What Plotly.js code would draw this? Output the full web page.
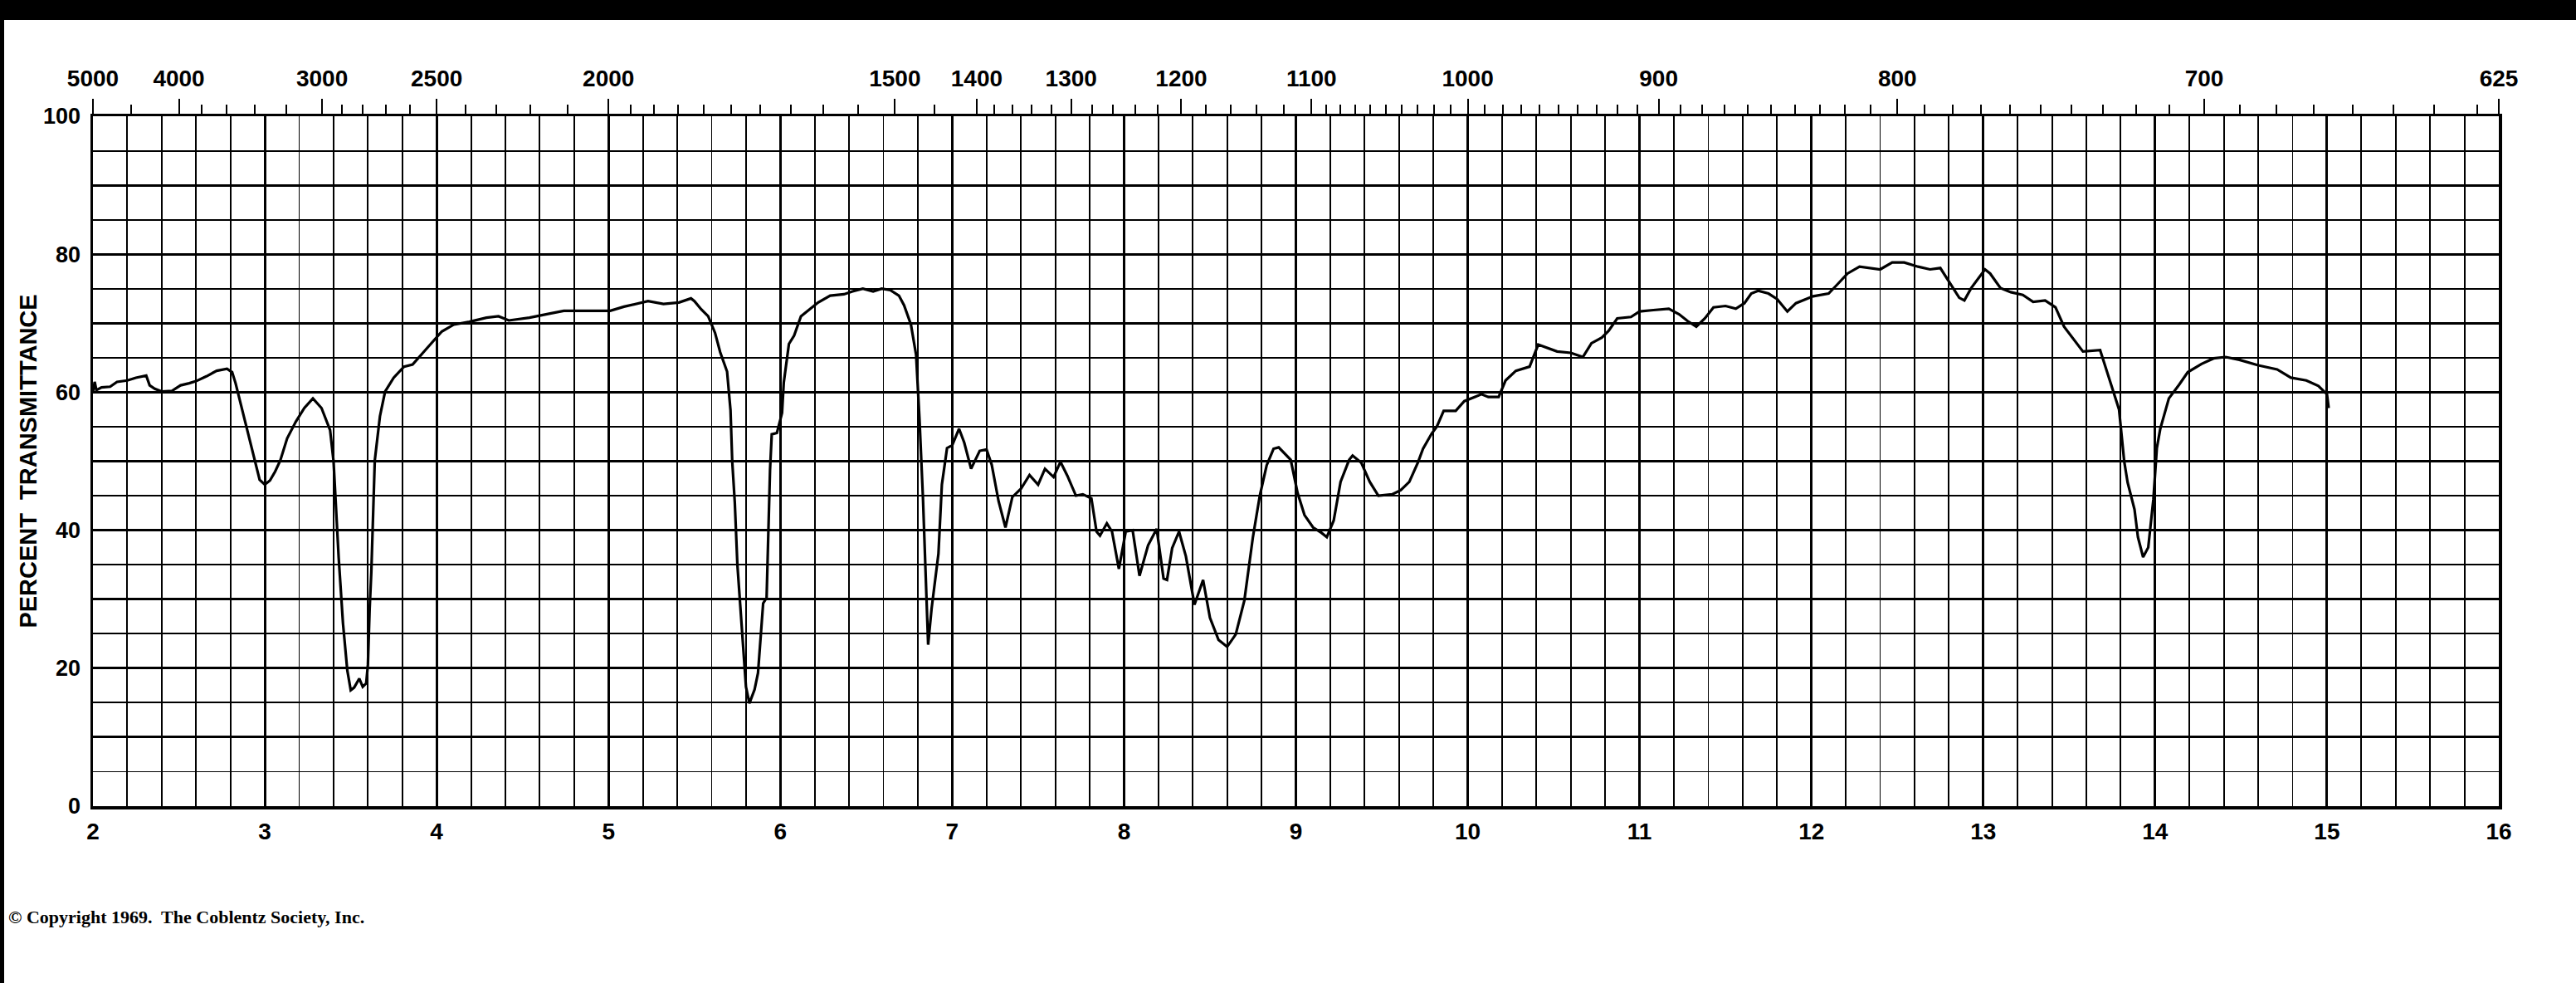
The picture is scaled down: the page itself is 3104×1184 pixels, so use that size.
<!DOCTYPE html>
<html>
<head>
<meta charset="utf-8">
<script src="https://cdn.plot.ly/plotly-3.0.1.min.js"></script>
<style>
  html, body { margin: 0; padding: 0; background: #000; }
  #chart { position: absolute; left: 5px; top: 24px; width: 3099px; height: 1160px; background: #fff; }
</style>
</head>
<body>
<div id="chart"></div>
<script>
// wavelength in microns
var microns = [
  2.00, 2.01, 2.02, 2.05, 2.10, 2.14, 2.20, 2.25, 2.31, 2.33, 2.36, 2.40, 2.46, 2.51, 2.56, 2.60,
  2.66, 2.72, 2.78, 2.81, 2.83, 2.87, 2.91, 2.94, 2.97, 3.00, 3.03, 3.06, 3.09, 3.13, 3.18, 3.23,
  3.28, 3.33, 3.38, 3.40, 3.43, 3.455, 3.48, 3.50, 3.52, 3.55, 3.57, 3.59, 3.60, 3.61, 3.62, 3.64,
  3.67, 3.70, 3.75, 3.81, 3.86, 3.92, 3.99, 4.03, 4.10, 4.19, 4.29, 4.36, 4.42, 4.54, 4.66, 4.74,
  4.84, 5.01, 5.09, 5.16, 5.23, 5.32, 5.41, 5.48, 5.50, 5.54, 5.58, 5.62, 5.65, 5.69, 5.71, 5.72,
  5.735, 5.75, 5.78, 5.80, 5.82, 5.85, 5.87, 5.90, 5.92, 5.94, 5.95, 5.98, 6.01, 6.02, 6.05, 6.08,
  6.12, 6.17, 6.22, 6.29, 6.37, 6.42, 6.48, 6.54, 6.59, 6.64, 6.69, 6.72, 6.76, 6.79, 6.81, 6.83,
  6.85, 6.86, 6.88, 6.90, 6.92, 6.94, 6.97, 7.00, 7.04, 7.07, 7.11, 7.16, 7.20, 7.23, 7.27, 7.31,
  7.35, 7.40, 7.45, 7.50, 7.54, 7.59, 7.63, 7.67, 7.72, 7.76, 7.81, 7.84, 7.86, 7.90, 7.93, 7.97,
  8.01, 8.05, 8.09, 8.14, 8.19, 8.23, 8.25, 8.28, 8.32, 8.36, 8.41, 8.46, 8.50, 8.55, 8.60, 8.65,
  8.70, 8.75, 8.79, 8.83, 8.87, 8.90, 8.94, 8.97, 9.01, 9.05, 9.10, 9.15, 9.18, 9.22, 9.26, 9.31,
  9.33, 9.38, 9.43, 9.48, 9.56, 9.61, 9.66, 9.71, 9.74, 9.79, 9.82, 9.86, 9.93, 9.98, 10.08, 10.12,
  10.18, 10.22, 10.28, 10.36, 10.41, 10.47, 10.52, 10.60, 10.67, 10.72, 10.78, 10.82, 10.87, 10.95, 11.00, 11.08,
  11.17, 11.23, 11.28, 11.33, 11.38, 11.43, 11.50, 11.56, 11.61, 11.65, 11.69, 11.75, 11.80, 11.86, 11.91, 12.01,
  12.10, 12.15, 12.21, 12.28, 12.40, 12.47, 12.54, 12.62, 12.69, 12.75, 12.80, 12.86, 12.89, 12.93, 13.01, 13.04,
  13.10, 13.16, 13.23, 13.29, 13.36, 13.42, 13.47, 13.53, 13.58, 13.68, 13.73, 13.79, 13.82, 13.84, 13.88, 13.90,
  13.93, 13.96, 13.99, 14.01, 14.03, 14.08, 14.14, 14.19, 14.27, 14.34, 14.41, 14.49, 14.60, 14.71, 14.79, 14.88,
  14.95, 15.00, 15.01
];

// percent transmittance at each wavelength
var transmittance = [
  60.0, 61.5, 60.3, 60.7, 60.8, 61.5, 61.7, 62.1, 62.4, 61.0, 60.5, 60.1, 60.2, 61.0, 61.3, 61.6,
  62.3, 63.1, 63.4, 62.9, 61.3, 57.3, 53.3, 50.0, 47.3, 46.6, 47.2, 48.5, 50.1, 53.3, 55.7, 57.7,
  59.1, 57.7, 54.5, 50.0, 36.0, 26.5, 19.7, 16.8, 17.2, 18.5, 17.3, 17.8, 20.5, 28.5, 34.0, 50.1,
  56.5, 60.1, 62.1, 63.7, 64.0, 65.7, 67.7, 68.8, 69.8, 70.2, 70.8, 71.0, 70.4, 70.8, 71.4, 71.8,
  71.8, 71.8, 72.4, 72.8, 73.2, 72.8, 73.0, 73.6, 73.2, 72.0, 71.0, 68.6, 65.8, 63.0, 57.4, 50.0,
  44.0, 35.0, 24.6, 17.3, 14.9, 16.9, 19.3, 29.4, 30.2, 48.7, 53.9, 54.1, 57.0, 61.4, 67.0, 68.2,
  71.0, 72.0, 73.0, 74.0, 74.2, 74.6, 75.0, 74.6, 75.0, 74.8, 74.0, 72.6, 69.8, 65.4, 56.0, 44.6,
  28.6, 23.4, 28.6, 33.0, 36.6, 46.6, 51.9, 52.3, 54.7, 52.7, 48.9, 51.5, 51.7, 49.5, 44.2, 40.4,
  44.8, 46.0, 48.0, 46.6, 48.9, 47.7, 49.9, 47.9, 45.0, 45.2, 44.6, 39.8, 39.2, 41.0, 39.8, 34.4,
  39.8, 40.0, 33.4, 37.8, 40.2, 33.0, 32.8, 37.4, 39.8, 36.2, 29.2, 32.8, 27.3, 24.1, 23.1, 24.9,
  29.8, 39.0, 45.0, 49.4, 51.8, 52.0, 51.0, 50.2, 45.4, 42.2, 40.4, 39.6, 39.0, 41.4, 47.0, 50.2,
  50.8, 49.8, 47.0, 45.0, 45.2, 45.8, 47.0, 49.8, 51.8, 54.0, 55.0, 57.3, 57.3, 58.7, 59.7, 59.3,
  59.3, 61.7, 63.1, 63.7, 66.9, 66.3, 65.9, 65.7, 65.1, 67.1, 67.9, 68.9, 70.7, 70.9, 71.7, 71.9,
  72.1, 71.3, 70.3, 69.5, 70.7, 72.3, 72.5, 72.1, 72.9, 74.3, 74.7, 74.3, 73.5, 71.7, 72.9, 73.9,
  74.3, 75.6, 77.2, 78.2, 77.8, 78.8, 78.8, 78.2, 77.8, 78.0, 76.0, 73.7, 73.3, 75.1, 77.8, 77.2,
  75.1, 74.5, 74.1, 73.1, 73.3, 72.3, 69.5, 67.5, 65.9, 66.1, 62.3, 57.5, 50.0, 46.9, 43.0, 39.0,
  36.1, 37.5, 44.5, 51.9, 54.7, 59.1, 61.1, 62.9, 64.1, 64.9, 65.1, 64.7, 63.9, 63.3, 62.1, 61.7,
  60.9, 59.7, 57.7
];

// bottom scale (microns) and left scale (percent)
var micronTicks = [2, 3, 4, 5, 6, 7, 8, 9, 10, 11, 12, 13, 14, 15, 16];
var percentTicks = [0, 10, 20, 30, 40, 50, 60, 70, 80, 90, 100];
var percentLabels = ['0', '', '20', '', '40', '', '60', '', '80', '', '100'];

// top scale (wavenumbers, cm-1)
var wavenumberLabels = [5000, 4000, 3000, 2500, 2000, 1500, 1400, 1300, 1200, 1100, 1000, 900, 800, 700, 625];
var wavenumberMinor = [
  4500, 3800, 3600, 3400, 3200,
  2900, 2800, 2700, 2600, 2400, 2300, 2200, 2100,
  1950, 1900, 1850, 1800, 1750, 1700, 1650, 1600, 1550, 1450,
  1380, 1360, 1340, 1320, 1280, 1260, 1240, 1220, 1180, 1160, 1140, 1120,
  1090, 1080, 1070, 1060, 1050, 1040, 1030, 1020, 1010,
  990, 980, 970, 960, 950, 940, 930, 920, 910,
  890, 880, 870, 860, 850, 840, 830, 820, 810,
  790, 780, 770, 760, 750, 740, 730, 720, 710,
  690, 680, 670, 660, 650, 640, 630
];

function toMicron(wn) { return 10000 / wn; }

var labelFont = { family: 'Liberation Sans, Arial, sans-serif', size: 28, color: '#000', weight: 'bold' };

var spectrum = {
  x: microns,
  y: transmittance,
  type: 'scatter',
  mode: 'lines',
  line: { color: '#000', width: 3.2 },
  hoverinfo: 'x+y',
  showlegend: false
};

// invisible trace so the top wavenumber axis is drawn
var topScale = {
  x: [2, 16],
  y: [0, 0],
  xaxis: 'x2',
  type: 'scatter',
  mode: 'markers',
  marker: { opacity: 0 },
  hoverinfo: 'skip',
  showlegend: false
};

var layout = {
  width: 3099,
  height: 1160,
  margin: { l: 107, r: 93, t: 116, b: 213 },
  paper_bgcolor: '#fff',
  plot_bgcolor: '#fff',
  font: labelFont,
  xaxis: {
    range: [2, 16],
    tickmode: 'array',
    tickvals: micronTicks,
    ticks: '',
    ticklabelstandoff: 3,
    tickfont: labelFont,
    showgrid: true,
    gridcolor: '#000',
    gridwidth: 3,
    minor: { dtick: 0.2, showgrid: true, gridcolor: '#000', gridwidth: 1.9 },
    showline: true,
    linecolor: '#000',
    linewidth: 3.5,
    mirror: true,
    zeroline: false,
    fixedrange: true
  },
  xaxis2: {
    overlaying: 'x',
    side: 'top',
    range: [2, 16],
    tickmode: 'array',
    tickvals: wavenumberLabels.map(toMicron),
    ticktext: wavenumberLabels.map(String),
    ticks: 'outside',
    ticklen: 20,
    tickwidth: 2,
    tickcolor: '#000',
    ticklabelstandoff: 4,
    tickfont: labelFont,
    minor: {
      tickmode: 'array',
      tickvals: wavenumberMinor.map(toMicron),
      ticks: 'outside',
      ticklen: 13,
      tickwidth: 2,
      tickcolor: '#000',
      showgrid: false
    },
    showgrid: false,
    zeroline: false,
    fixedrange: true
  },
  yaxis: {
    range: [0, 100],
    tickmode: 'array',
    tickvals: percentTicks,
    ticktext: percentLabels,
    ticks: '',
    ticklabelstandoff: 6,
    tickfont: { family: 'Liberation Sans, Arial, sans-serif', size: 27, color: '#000', weight: 'bold' },
    showgrid: true,
    gridcolor: '#000',
    gridwidth: 3,
    minor: { dtick: 5, showgrid: true, gridcolor: '#000', gridwidth: 1.9 },
    showline: true,
    linecolor: '#000',
    linewidth: 3.5,
    mirror: true,
    zeroline: false,
    fixedrange: true,
    title: {
      text: 'PERCENT  TRANSMITTANCE',
      font: { family: 'Liberation Sans, Arial, sans-serif', size: 29, color: '#000', weight: 'bold' },
      standoff: 0
    }
  },
  annotations: [{
    xref: 'paper', yref: 'paper',
    x: -0.0359, y: -0.161,
    xanchor: 'left', yanchor: 'middle',
    showarrow: false,
    text: '\u00A9 Copyright 1969.  The Coblentz Society, Inc.',
    font: { family: 'Liberation Serif, Times New Roman, serif', size: 22, color: '#000' }
  }]
};

try {
  Plotly.newPlot('chart', [spectrum, topScale], layout, { displayModeBar: false, staticPlot: true });
} catch (e) {
  console.log('failed');
  console.log(e);
}
</script>
</body>
</html>
